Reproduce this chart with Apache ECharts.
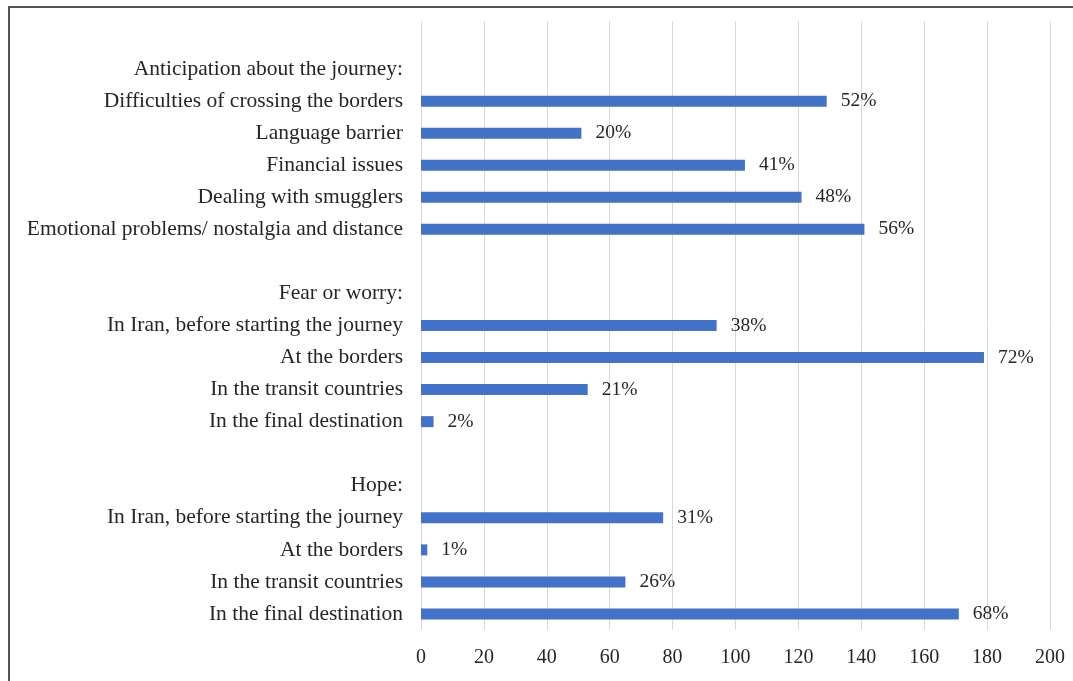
<!DOCTYPE html>
<html lang="en">
<head>
    <meta charset="UTF-8">
    <title>Journey chart</title>
    <style>
        body{
            margin: 0;
            background-color: #ffffff;
        }
        #chart{
            width: 1073px;
            height: 681px;
        }
    </style>
</head>
<body>
<div id="chart"></div>
<script src="https://cdn.jsdelivr.net/npm/echarts@6/dist/echarts.min.js"></script>
<script>
    // rows top to bottom; '' rows are spacers, headers carry no bar
    var categories = [
        '',
        'Anticipation about the journey:',
        'Difficulties of crossing the borders',
        'Language barrier',
        'Financial issues',
        'Dealing with smugglers',
        'Emotional problems/ nostalgia and distance',
        ' ',
        'Fear or worry:',
        'In Iran, before starting the journey',
        'At the borders',
        'In the transit countries',
        'In the final destination',
        '  ',
        'Hope:',
        'In Iran,  before starting the journey',
        'At the borders ',
        'In the transit countries ',
        'In the final destination '
    ];
    var values = [null, null, 129, 51, 103, 121, 141, null, null, 94, 179, 53, 4, null, null, 77, 2, 65, 171];
    var percents = ['', '', '52%', '20%', '41%', '48%', '56%', '', '', '38%', '72%', '21%', '2%', '', '', '31%', '1%', '26%', '68%'];
    var xTicks = [0, 20, 40, 60, 80, 100, 120, 140, 160, 180, 200];

    var chart = echarts.init(document.getElementById('chart'));
    var font = '"Liberation Serif", "Times New Roman", serif';

    var option = {
        animation: false,
        textStyle: { fontFamily: font },
        grid: { left: 421, right: 23, top: 21, bottom: 51, containLabel: false },
        xAxis: {
            type: 'value',
            min: xTicks[0],
            max: xTicks[xTicks.length - 1],
            interval: 20,
            axisLine: { show: false },
            axisTick: { show: false },
            splitLine: { lineStyle: { color: '#d9d9d9', width: 1 } },
            axisLabel: { color: '#262626', fontSize: 20, fontFamily: font, margin: 18 }
        },
        yAxis: {
            type: 'category',
            inverse: true,
            data: categories,
            axisLine: { show: false },
            axisTick: { show: false },
            axisLabel: {
                color: '#262626', fontSize: 21.5, fontFamily: font, margin: 18,
                formatter: function (v) { return v.trim().replace(',  ', ', '); }
            }
        },
        series: [{
            type: 'bar',
            data: values,
            barWidth: 11,
            itemStyle: { color: '#4472c4' },
            label: {
                show: true,
                position: 'right',
                distance: 14,
                color: '#262626',
                fontSize: 19.5,
                fontFamily: font,
                formatter: function (p) { return percents[p.dataIndex]; }
            }
        }],
        graphic: [
            { type: 'rect', shape: { x: 8, y: 6, width: 1065, height: 2 }, style: { fill: '#555555' } },
            { type: 'rect', shape: { x: 8, y: 6, width: 2, height: 675 }, style: { fill: '#555555' } }
        ]
    };
    chart.setOption(option);
</script>
</body>
</html>
